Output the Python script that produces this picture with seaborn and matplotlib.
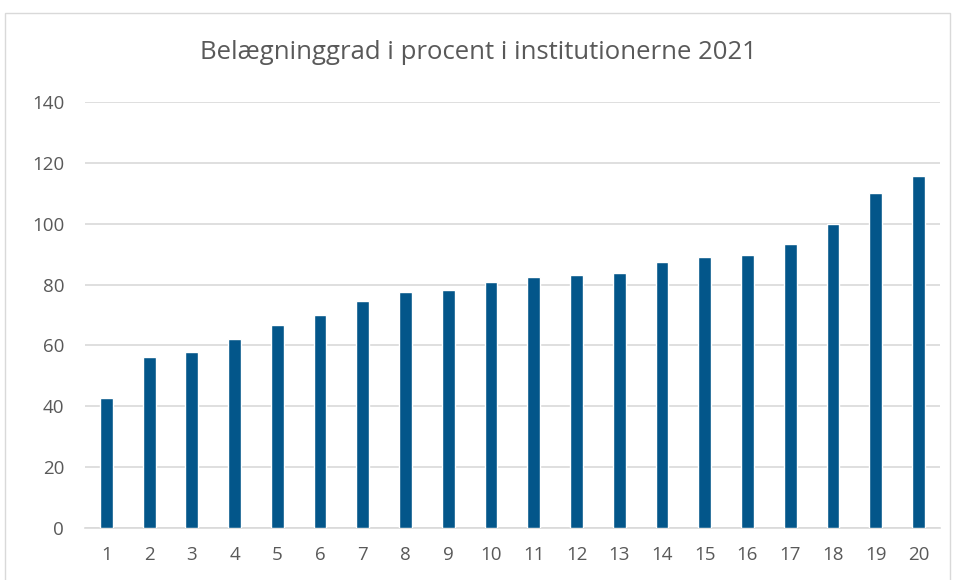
import matplotlib
matplotlib.use("Agg")
import matplotlib.pyplot as plt
import matplotlib.patches as mpatches
import seaborn as sns
import pandas as pd

categories = [str(i) for i in range(1, 21)]
values = [42.8, 56.1, 57.8, 62.0, 66.7, 70.0, 74.6, 77.5, 78.2, 80.9,
          82.4, 83.2, 83.8, 87.4, 89.0, 89.8, 93.3, 100.0, 110.1, 115.8]
yticks = [0, 20, 40, 60, 80, 100, 120, 140]
title = "Belægninggrad i procent i institutionerne 2021"

sns.set_style("white")
plt.rcParams['font.family'] = ['Open Sans', 'DejaVu Sans']

df = pd.DataFrame({"cat": categories, "val": values})

fig = plt.figure(figsize=(9.57, 5.8), dpi=100)
ax = fig.add_axes([0.0888, 0.0897, 0.8932, 0.7345])
sns.barplot(data=df, x="cat", y="val", color="#03568A", width=0.3,
            saturation=1, ax=ax, zorder=3)

ax.set_ylim(0, 140)
ax.set_yticks(yticks)
ax.set_xlim(-0.5, len(categories) - 0.5)
ax.grid(axis="y", color="#d9d9d9", linewidth=1.2, zorder=0)
ax.set_axisbelow(True)
for s in ["top", "right", "left"]:
    ax.spines[s].set_visible(False)
ax.spines["bottom"].set_color("#d9d9d9")
ax.spines["bottom"].set_linewidth(1.2)
ax.tick_params(axis="both", length=0, labelsize=13.5, colors="#595959")
ax.tick_params(axis="x", pad=13)
ax.tick_params(axis="y", pad=15)
ax.set_xlabel("")
ax.set_ylabel("")

fig.text(0.5, 0.91, title, ha="center", va="center", fontsize=18.5, color="#595959")

border = mpatches.Rectangle((5 / 957, -0.01), 945 / 957, (580 - 13) / 580 + 0.01,
                            transform=fig.transFigure, fill=False,
                            edgecolor="#d9d9d9", linewidth=1)
fig.patches.append(border)

fig.savefig("out.png", dpi=100)
